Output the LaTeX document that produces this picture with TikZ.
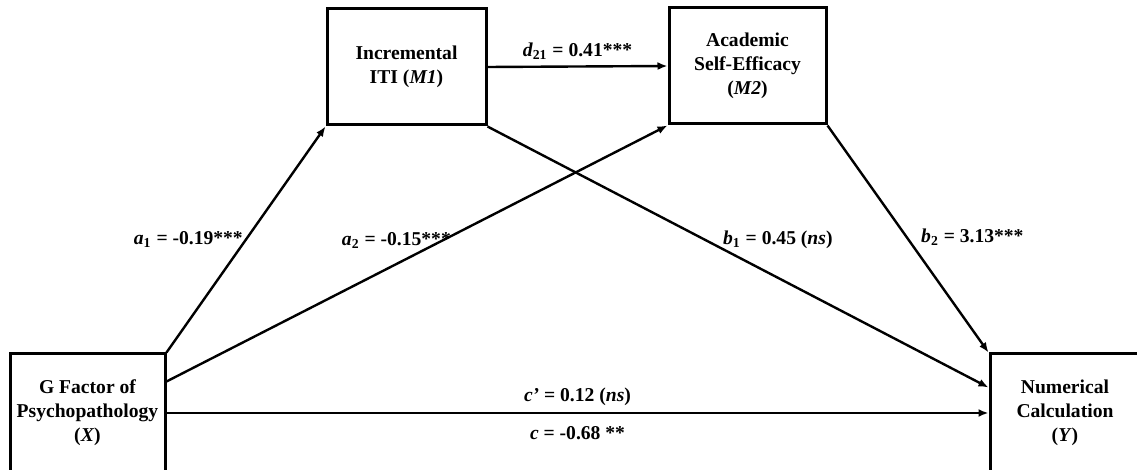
\documentclass[tikz,border=0pt]{standalone}
\usepackage{fontspec}
\setmainfont{Liberation Serif}
\usetikzlibrary{arrows.meta, calc}

\begin{document}
\begin{tikzpicture}[
			x=0.5pt, y=-0.5pt,
			varbox/.style={rectangle, draw, line width=1.5pt, align=center, inner sep=0pt,
				minimum height=58pt, font=\fontsize{9.8}{12}\selectfont\bfseries},
			arr/.style={-{Latex[length=5pt, width=4pt]}, line width=1.2pt},
			coef/.style={inner sep=1pt, font=\fontsize{9.8}{12}\selectfont\bfseries}
		]
			\useasboundingbox (0,0) rectangle (1137,470);

			\node[varbox, minimum width=77.5pt, minimum height=59pt] (x) at (87.5,413) {G Factor of\\Psychopathology\\(\textit{X})};
			\node[varbox, minimum width=79.5pt] (m1) at (406.5,67) {Incremental\\ITI (\textit{M1})};
			\node[varbox, minimum width=78.5pt] (m2) at (747.5,66) {Academic\\Self-Efficacy\\(\textit{M2})};
			\node[varbox, minimum width=75pt, minimum height=59pt] (y) at (1065,413) {Numerical\\Calculation\\(\textit{Y})};

			\coordinate (xm2) at ($(x.north east)+(0,29)$);
			\coordinate (yb1) at ($(y.north west)+(0,35)$);

			\draw[arr] (x.north east) -- node[coef, pos=0.5, anchor=east] {\textit{a}\textsubscript{1} = -0.19***} (m1.south west);
			\draw[arr] (xm2) -- node[coef, pos=0.55, anchor=east, xshift=6pt] {\textit{a}\textsubscript{2} = -0.15***} (m2.south west);
			\draw[arr] (x.east) -- node[coef, above=2pt] {\textit{c’} = 0.12 (\textit{ns})} node[coef, below=5pt] {\textit{c} = -0.68 **} (y.west);
			\draw[arr] (m1.east) -- node[coef, above=2pt] {\textit{d}\textsubscript{21} = 0.41***} (m2.west);
			\draw[arr] (m1.south east) -- node[coef, pos=0.44, anchor=west, xshift=6pt, yshift=1pt] {\textit{b}\textsubscript{1} = 0.45 (\textit{ns})} (yb1);
			\draw[arr] (m2.south east) -- node[coef, pos=0.5, anchor=west, xshift=5pt, yshift=1pt] {\textit{b}\textsubscript{2} = 3.13***} (y.north west);
		\end{tikzpicture}
\end{document}
